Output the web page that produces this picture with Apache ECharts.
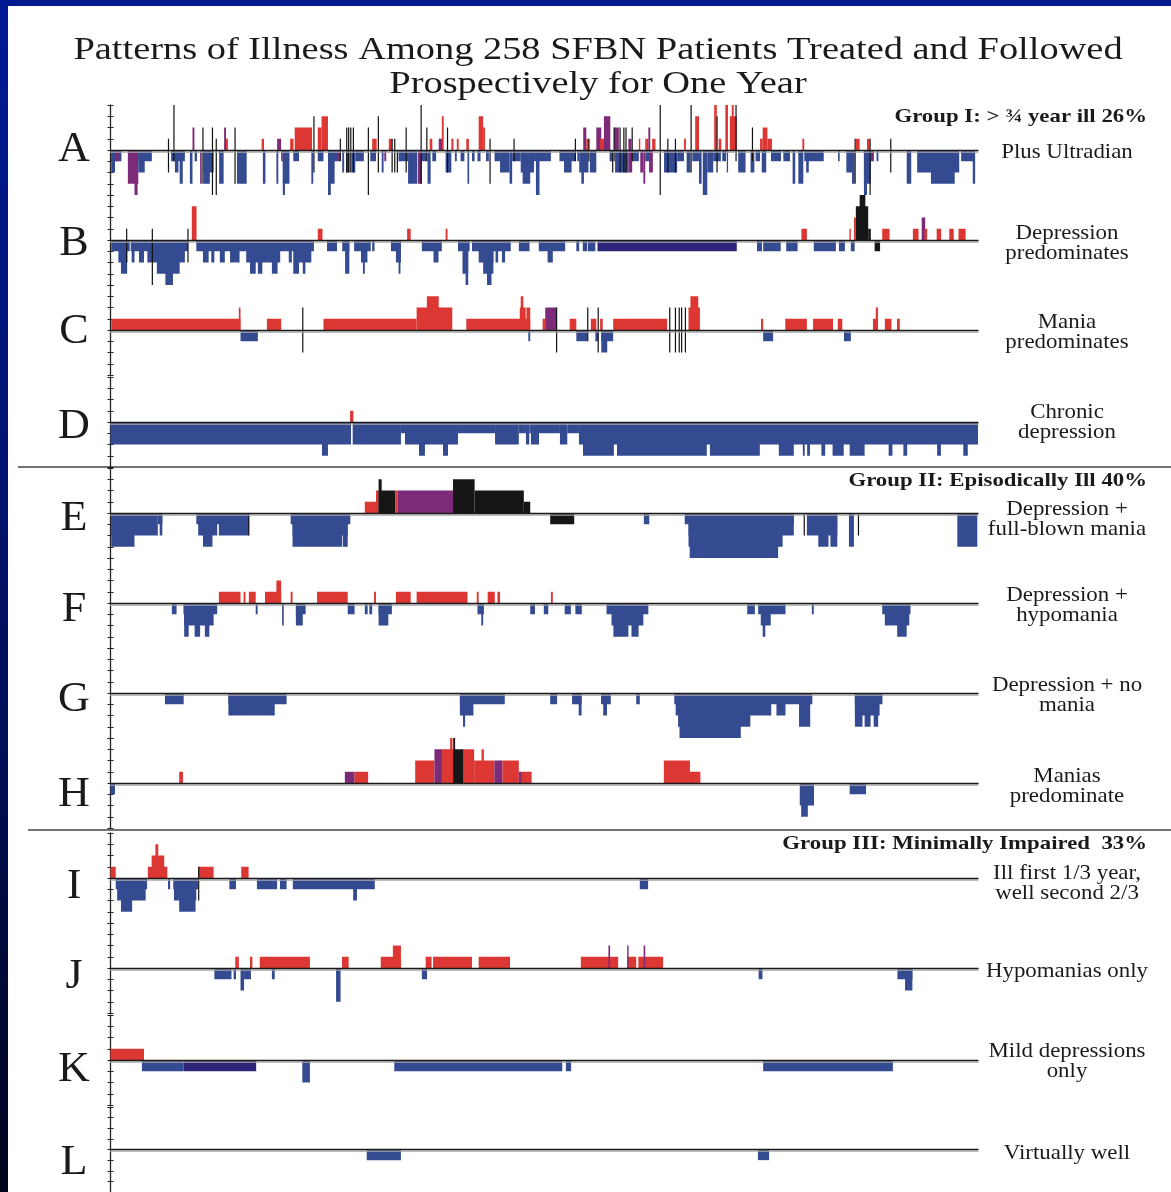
<!DOCTYPE html>
<html>
<head>
<meta charset="utf-8">
<script src="https://cdn.jsdelivr.net/npm/echarts@6/dist/echarts.min.js"></script>
<style>
html,body{margin:0;padding:0;background:#fff;}
#chart{width:1171px;height:1192px;}
</style>
</head>
<body>
<div id="chart"></div>
<script>
// ---------- DATA (days 0-365; level >0 mania, <0 depression) ----------
// bar: [startDay, endDay, level, colour code]   r=red p=purple k=black b=blue n=navy
// line: [day, topLevel, bottomLevel]  (thin ultradian strokes)
const titleLines = ['Patterns of Illness Among 258 SFBN Patients Treated and Followed', 'Prospectively for One Year'];
const rowLetters = ['A','B','C','D','E','F','G','H','I','J','K','L'];
const rowLabels = ['Plus Ultradian','Depression\npredominates','Mania\npredominates','Chronic\ndepression',
  'Depression +\nfull-blown mania','Depression +\nhypomania','Depression + no\nmania','Manias\npredominate',
  'Ill first 1/3 year,\nwell second 2/3','Hypomanias only','Mild depressions\nonly','Virtually well'];
const groupTitles = ['Group I: > \u00BE year ill 26%','Group II: Episodically Ill 40%','Group III: Minimally Impaired  33%'];

const A_bars = [
 [0.3,4.6,-1,'b'],[0.3,1.9,-2,'b'],[2.2,3.5,-1,'p'],
 [7.3,11.7,-3,'p'],[10.1,11.4,-4,'p'],
 [11.7,17.4,-1,'b'],[11.7,14.4,-2,'b'],
 [25.5,31.3,-1,'b'],[27.1,28.6,-2,'b'],[29.1,30.4,-3,'b'],
 [33.4,34.5,-3,'b'],[35.4,36.4,-1,'b'],[37.7,38.4,-3,'p'],
 [39.2,43.4,-2,'b'],[39.2,41.8,-3,'b'],[45.7,47.6,-3,'b'],
 [53.2,57.3,-3,'b'],[64.1,65.2,-3,'b'],
 [69.8,70.6,-3,'b'],[71.8,72.5,-1,'p'],[72.5,75.3,-3,'b'],[72.5,73.4,-4,'b'],
 [76.9,79.3,-1,'b'],[84.5,85.3,-3,'b'],
 [87.2,89.6,-1,'b'],[91.5,94.3,-3,'b'],[91.5,92.7,-4,'b'],[92.7,95.9,-1,'b'],[95.6,96.7,-1,'p'],
 [97.5,98.3,-2,'b'],[99.1,100.6,-2,'b'],[101.4,103,-2,'b'],[103,106.6,-1,'b'],
 [109.3,111.7,-1,'b'],[114.1,114.9,-2,'b'],[115.2,116,-1,'p'],
 [121.2,125.2,-1,'b'],[125.2,129.1,-3,'b'],[129.4,131,-3,'p'],[130.7,133.1,-1,'b'],[133.4,134.7,-3,'b'],
 [135.4,137,-1,'b'],[141,143.4,-2,'b'],[144.9,145.7,-1,'b'],[147.3,148.9,-1,'b'],[150.2,150.9,-3,'b'],
 [152.1,153.2,-1,'b'],[154.4,155.7,-1,'b'],[158,159.2,-1,'b'],
 [161.6,163.9,-1,'b'],[163.9,167.9,-2,'b'],[167.9,169,-3,'b'],[169,172.6,-1,'b'],[172.6,178.2,-2,'b'],
 [173.4,176.6,-3,'b'],[178.2,185.3,-1,'b'],[179,180.5,-4,'b'],[188.9,195.6,-1,'b'],[190.8,194,-2,'b'],
 [196.4,197.2,-1,'b'],[197.2,201.1,-2,'b'],[198.1,199.2,-3,'b'],
 [201.7,204.4,-2,'b'],[210,211.3,-1,'b'],[212.3,217.9,-2,'b'],[217.9,219.5,-2,'p'],[219.5,222.3,-1,'b'],
 [222.9,224.2,-2,'p'],[224.2,225,-3,'p'],[225,227.1,-1,'b'],[226.6,228.2,-2,'p'],
 [232.9,238.4,-2,'b'],[238.4,241.3,-1,'b'],[242.4,244,-2,'b'],[244.8,247.6,-1,'b'],[247.6,248.7,-3,'b'],
 [249.2,251.1,-4,'b'],[251.1,253.6,-2,'b'],[253.6,256.8,-1,'b'],[257.4,259,-1,'b'],[259.3,259.8,-2,'b'],
 [264.1,267.2,-2,'b'],[269.3,270.9,-2,'b'],[271.4,273.3,-1,'b'],[274,275.9,-2,'b'],[277.9,282.1,-1,'b'],
 [283.1,285.9,-1,'b'],[287,288.1,-3,'b'],[289.4,291.5,-3,'b'],[291.9,300.1,-1,'b'],[292.7,293.8,-2,'b'],
 [306.1,306.8,-1,'b'],[309.6,312,-2,'b'],[312,313.1,-3,'b'],[317,319.9,-3,'b'],[317,318.3,-4,'b'],
 [319.9,321.2,-1,'p'],[322.3,323.1,-1,'b'],
 [335,336.9,-3,'b'],[339.4,357.1,-2,'b'],[345.2,355.2,-3,'b'],[357.9,363.4,-1,'b'],[362.8,363.8,-3,'b'],
 [34.5,35.3,2,'p'],[47.8,48.6,2,'p'],[48.6,49.4,1,'r'],[63.6,64.6,1,'r'],[70.1,71.8,1,'p'],
 [75.6,77,1,'r'],[77.5,84.8,2,'r'],[87.2,88.8,2,'r'],[88.8,91.5,3,'r'],
 [110.1,112,1,'r'],[117.1,118.4,1,'r'],[134.3,135.4,1,'r'],[138.1,139.7,1,'p'],[139.4,140.2,3,'r'],
 [143.4,144.3,1,'r'],[145.7,146.5,1,'r'],[149.7,150.8,1,'r'],[154.9,156.8,3,'r'],[156.8,157.6,2,'r'],
 [198.9,200.2,2,'p'],[200.2,201.3,1,'r'],[204.4,206.5,2,'p'],[206,208,1,'r'],[207.6,210.3,3,'p'],
 [211.9,213.9,2,'p'],[217.9,219.2,1,'p'],[222.3,222.9,1,'r'],[225,226.3,1,'r'],[226.3,227.1,2,'p'],
 [227.9,229.3,1,'r'],[241.3,242.1,1,'r'],[246,247.6,3,'r'],[254,255.1,4,'r'],[255.9,257,1,'r'],
 [258.7,259.8,4,'r'],[260.6,263.5,3,'r'],[261.4,262.2,4,'r'],[273.3,274.4,1,'r'],[274.4,276.4,2,'r'],
 [276.4,278.3,1,'r'],[291.1,291.9,1,'r'],[313.6,315.2,1,'r'],[318.3,319.4,1,'r']
];
const A_lines = [[24.4,1,-2],[26.7,4,-1],[38.9,2,-3],[42.9,2,-4],[44.5,1,-4],[52.4,2,-3],[85.6,3,-2],
 [96.7,1,-1],[99.4,2,-2],[100.2,2,-2],[101.1,2,-2],[102.2,2,-2],[108.5,2,-4],[112.7,3,-2],[118.5,1,-2],
 [119.6,1,-2],[120.7,0,-2],[124.4,2,-2],[130.7,4,-3],[133.1,2,-1],[141.8,2,-2],[159.7,1,-3],[169.8,1,-1],
 [195.6,1,-1],[201.3,1,-1],[211.3,0,-2],[211.9,2,-1],[214.4,2,-2],[216,2,-2],[216.9,2,-2],[219.5,2,-1],
 [231.3,4,-4],[234.5,1,-2],[237.7,1,-2],[244.3,4,-2],[255.2,3,-2],[263.2,4,-1],[270.1,2,-1],[313.3,1,-3],
 [319.6,1,-4],[328.3,1,-2]];

const B_bars = [
 [0.3,8.1,-1,'b'],[3.3,7,-2,'b'],[4.4,7,-3,'b'],[8.5,32.6,-1,'b'],[8.9,10.1,-2,'b'],[12,14.1,-2,'b'],
 [15.5,31.3,-2,'b'],[19.5,29.1,-3,'b'],[23.1,26.3,-4,'b'],
 [36.1,85.6,-1,'b'],[38.9,41.3,-2,'b'],[42.4,43.7,-2,'b'],[46,48.1,-2,'b'],[50.3,54.3,-2,'b'],[57.1,71.4,-2,'b'],
 [58.7,61.1,-3,'b'],[62,63.9,-3,'b'],[67.9,70.3,-3,'b'],[75,76.3,-2,'b'],[76.9,79.3,-3,'b'],[79.3,84.5,-2,'b'],[80.9,82,-3,'b'],
 [91.1,95.3,-1,'b'],[97.5,100.5,-1,'b'],[98.7,100.5,-3,'b'],[102.5,109.5,-1,'b'],[105.4,108.1,-2,'b'],[106.2,107,-3,'b'],
 [110.1,111.1,-1,'b'],[118,122.2,-1,'b'],[120.1,122.2,-2,'b'],[121.2,122,-3,'b'],
 [131,139.4,-1,'b'],[135.9,138,-2,'b'],[146.2,151.1,-1,'b'],[148.1,150.5,-3,'b'],[149.4,150.5,-4,'b'],
 [152.1,168.4,-1,'b'],[154.9,161.1,-2,'b'],[156.8,161.1,-3,'b'],[158.4,160.3,-4,'b'],[162,163.1,-2,'b'],[164.7,166,-2,'b'],
 [171.8,176.3,-1,'b'],[180.2,191.3,-1,'b'],[183.9,186.1,-2,'b'],[196,197.2,-1,'b'],[198.7,200.5,-1,'b'],[200.8,204,-1,'b'],
 [204.9,263.5,-1,'n'],[272,274.1,-1,'b'],[274.6,282,-1,'b'],[284.3,289.1,-1,'b'],[295.9,305.2,-1,'b'],
 [306.5,309,-1,'b'],[311.5,313.1,-1,'b'],[321.5,323.8,-1,'k'],
 [34.2,36.2,3,'r'],[87.2,89.2,1,'r'],[124.8,126.3,1,'r'],[141,141.8,1,'r'],
 [290.7,293,1,'r'],[310.9,311.5,1,'r'],[312.8,313.6,2,'r'],[313.6,318.8,3,'k'],[315.2,317.6,4,'k'],[318.8,319.9,1,'k'],
 [324.7,327.8,1,'r'],[337.6,340,1,'r'],[341.3,342.8,2,'p'],[342.5,343.6,1,'r'],[347.6,349.5,1,'r'],
 [352.9,354.8,1,'r'],[356.8,359.8,1,'r']
];
const B_lines = [[6.8,1,-2],[17.6,1,-4],[32.6,1,-2]];

const C_bars = [
 [0.3,54.7,1,'r'],[54,54.7,2,'r'],[54.7,62,-1,'b'],[65.8,71.8,1,'r'],
 [89.6,128.8,1,'r'],[128.8,143.8,2,'r'],[133.1,138.1,3,'r'],
 [149.7,176.6,1,'r'],[172.2,174.7,2,'r'],[172.6,173.7,3,'r'],[175,176.6,2,'r'],[175.8,176.6,-1,'b'],
 [181.8,182.9,1,'r'],[182.9,187.7,2,'p'],[193.2,196,1,'r'],[196,200.6,-1,'b'],
 [202.1,204.4,1,'r'],[204,205.2,-1,'b'],[206,207.1,1,'r'],[206.5,211.5,-1,'b'],[206.5,209,-2,'b'],[211.5,234.2,1,'r'],
 [243.2,248,2,'r'],[244,247.3,3,'r'],[273.7,274.6,1,'r'],[274.6,278.8,-1,'b'],[283.9,293,1,'r'],[295.6,304,1,'r'],
 [306,307.9,1,'r'],[308.6,311.5,-1,'b'],[320.8,322.9,1,'r'],[322,322.9,2,'r'],[325.8,328.6,1,'r'],[330.9,332.1,1,'r']
];
const C_lines = [[80.9,2,-2],[187.7,2,-2],[200.8,2,-1],[205.2,2,-2],[235.3,2,-2],[237.7,2,-2],[239.3,2,-2],[240.3,2,-2],[241.9,2,-2]];

const D_bars = [
 [0,101.2,-2,'b'],[101.9,122.2,-2,'b'],[122.2,123.9,-1,'b'],[123.9,146.2,-2,'b'],[146.2,161.8,-1,'b'],
 [161.8,171.8,-2,'b'],[171.8,174.8,-1,'b'],[174.8,176.2,-2,'b'],[176.2,176.9,-1,'b'],[176.9,180.3,-2,'b'],
 [180.3,189.1,-1,'b'],[189.1,192.2,-2,'b'],[192.2,197.1,-1,'b'],[197.1,365,-2,'b'],
 [100.8,102.2,1,'r'],
 [89,91.5,-3,'b'],[129.8,132.3,-3,'b'],[139.9,142,-3,'b'],[198.8,211.8,-3,'b'],[213.1,250.9,-3,'b'],
 [252.2,273.2,-3,'b'],[281.2,287.5,-3,'b'],[291.3,292.1,-3,'b'],[293.1,294.3,-3,'b'],[299.1,300.7,-3,'b'],
 [303.8,308.5,-3,'b'],[311,317.3,-3,'b'],[327.4,329,-3,'b'],[333.6,335.2,-3,'b'],[347.8,349.4,-3,'b'],[358.8,360.7,-3,'b']
];

const E_bars = [
 [0.3,19.9,-2,'b'],[19.9,21.8,-1,'b'],[20.7,21.8,-2,'b'],[0.3,10.1,-3,'b'],
 [36.1,58.2,-1,'b'],[36.9,44.9,-2,'b'],[38.9,42.9,-3,'b'],[45.6,58.2,-2,'b'],
 [75.8,100.9,-1,'b'],[76.6,99.8,-2,'b'],[76.6,97.5,-3,'b'],[97.8,99.8,-3,'b'],
 [107,112.5,1,'r'],[111.7,112.8,2,'r'],[112.8,119.9,2,'k'],[112.8,114.1,3,'k'],[119.9,120.7,2,'r'],
 [120.7,144.1,2,'p'],[144.1,153.2,3,'k'],[153.2,173.9,2,'k'],[173.9,176.6,1,'k'],
 [185,195.1,-1,'k'],
 [224.4,226.7,-1,'b'],[241.6,287.5,-1,'b'],[243.2,287.5,-2,'b'],[243.2,282.8,-3,'b'],[243.7,280.9,-4,'b'],
 [293,305.8,-2,'b'],[297.8,302.1,-3,'b'],[302.9,305.8,-3,'b'],[310.7,312.8,-3,'b'],[356.3,364.7,-3,'b']
];
const E_lines = [[58.2,0,-2],[291.9,0,-2],[314.7,0,-2]];

const F_bars = [
 [25.8,27.8,-1,'b'],[30.7,44.9,-1,'b'],[31,43.4,-2,'b'],[31,32.9,-3,'b'],[35.4,37.7,-3,'b'],[39.7,41.6,-3,'b'],
 [45.6,54.7,1,'r'],[56,56.8,1,'r'],[58.2,61.1,1,'r'],[61.1,61.9,-1,'b'],[65,71.8,1,'r'],[69.8,71.8,2,'r'],
 [72.2,72.9,-2,'b'],[75.8,76.6,1,'r'],[78,82.1,-1,'b'],[78,80.9,-2,'b'],[86.9,99.8,1,'r'],[99.8,102.7,-1,'b'],
 [107,108.2,-1,'b'],[108.9,110.1,-1,'b'],[110.9,111.7,1,'r'],[112.8,118.4,-1,'b'],[112.8,116.9,-2,'b'],
 [120.1,126.3,1,'r'],[128.8,150.2,1,'r'],[154.1,154.9,1,'r'],[154.4,157.1,-1,'b'],[156,156.8,-2,'b'],
 [158.7,161.7,1,'r'],[162.8,163.9,1,'r'],[176.6,178.6,-1,'b'],[182.3,184.2,-1,'b'],[185.3,186.1,1,'r'],
 [191.1,193.7,-1,'b'],[195.6,198.3,-1,'b'],
 [208.7,226.3,-1,'b'],[210.8,224.2,-2,'b'],[211.6,217.9,-3,'b'],[219.2,222.2,-3,'b'],[267.9,271.1,-1,'b'],
 [272.5,284,-1,'b'],[273.6,277.8,-2,'b'],[274.4,275.5,-3,'b'],[295.1,295.9,-1,'b'],[324.7,336.6,-1,'b'],
 [325.8,336.1,-2,'b'],[331,335,-3,'b']
];

const G_bars = [
 [22.9,30.8,-1,'b'],[49.6,74.1,-1,'b'],[49.6,69.1,-2,'b'],[147,165.9,-1,'b'],[147,152.7,-2,'b'],[148.3,149.2,-3,'b'],
 [185,187.9,-1,'b'],[194.2,198.2,-1,'b'],[197,198.2,-2,'b'],[206.4,210.5,-1,'b'],[207.3,208.9,-2,'b'],
 [221.2,222.7,-1,'b'],[237.2,295.3,-1,'b'],[237.8,278,-2,'b'],[238.8,269.2,-3,'b'],[239.4,265.2,-4,'b'],
 [280.2,284,-2,'b'],[289.7,294.4,-3,'b'],[313.2,324.8,-1,'b'],[313.2,323.6,-2,'b'],[313.2,316.4,-3,'b'],
 [317.3,319.8,-3,'b'],[321.1,323,-3,'b']
];

const H_bars = [
 [0,1.9,-1,'b'],[28.9,30.5,1,'r'],[98.6,102.7,1,'p'],[102.7,108.4,1,'r'],[128.2,136.3,2,'r'],
 [136.3,139.5,3,'p'],[139.5,144.2,3,'r'],[142.9,143.9,4,'r'],[144.2,148.6,3,'k'],[144.2,145,4,'k'],
 [148.6,153,3,'r'],[153,161.5,2,'r'],[156.1,157.1,3,'r'],[161.5,164.9,2,'p'],[164.9,171.8,2,'r'],
 [171.8,173.1,1,'p'],[173.1,177.2,1,'r'],[232.8,243.8,2,'r'],[243.8,248.2,1,'r'],
 [290,296,-2,'b'],[290.6,293.4,-3,'b'],[311,317.9,-1,'b']
];

const I_bars = [
 [0,2.2,1,'r'],[2.2,15.4,-1,'b'],[2.8,14.8,-2,'b'],[4.4,9.1,-3,'b'],[15.7,23.9,1,'r'],[17.3,22.6,2,'r'],
 [18.9,20.1,3,'r'],[24.2,25.1,-1,'b'],[26.4,36.8,-1,'b'],[26.7,36.1,-2,'b'],[28.9,35.8,-3,'b'],
 [37.1,43.4,1,'r'],[50,52.8,-1,'b'],[55,58.1,1,'r'],[61.6,70.1,-1,'b'],[71.3,74.1,-1,'b'],
 [76.7,111.2,-1,'b'],[102.1,103.7,-2,'b'],[222.7,226.2,-1,'b']
];
const I_lines = [[37.1,1,-2]];

const J_bars = [
 [43.7,50.9,-1,'b'],[51.8,52.8,-1,'b'],[52.5,54,1,'r'],[54.7,56.2,-2,'b'],[56.2,59.1,-1,'b'],[58.7,59.7,1,'r'],
 [62.8,83.9,1,'r'],[67.9,69.1,-1,'b'],[94.9,96.8,-3,'b'],[97.4,100.2,1,'r'],[113.7,122.2,1,'r'],[118.8,122.2,2,'r'],
 [131,133.2,-1,'b'],[132.6,135.1,1,'r'],[135.7,152.1,1,'r'],[154.9,168.1,1,'r'],[197.9,213.6,1,'r'],
 [217.4,221.2,1,'r'],[222.1,232.5,1,'r'],[209.5,210.2,2,'p'],[217.4,218,2,'p'],[224.3,225,2,'p'],
 [272.7,274.3,-1,'b'],[331.1,337.4,-1,'b'],[334.3,337.4,-2,'b']
];

const K_bars = [[0,14.1,1,'r'],[13.2,30.8,-1,'b'],[30.8,61.3,-1,'n'],[80.7,83.9,-2,'b'],[119.4,190.1,-1,'b'],
 [191.6,193.8,-1,'b'],[274.6,329.2,-1,'b']];

const L_bars = [[107.8,122.2,-1,'b'],[272.4,277.1,-1,'b']];

// ---------- LAYOUT / STYLE ----------
const COLORS = {r:'#dd3733', b:'#354b91', p:'#7c2b79', k:'#161616', n:'#2d2579'};
const rows = [
  {bars:A_bars, lines:A_lines, base:150},
  {bars:B_bars, lines:B_lines, base:240},
  {bars:C_bars, lines:C_lines, base:330},
  {bars:D_bars, lines:[], base:422},
  {bars:E_bars, lines:E_lines, base:513},
  {bars:F_bars, lines:[], base:603},
  {bars:G_bars, lines:[], base:693},
  {bars:H_bars, lines:[], base:783},
  {bars:I_bars, lines:I_lines, base:878},
  {bars:J_bars, lines:[], base:968},
  {bars:K_bars, lines:[], base:1060},
  {bars:L_bars, lines:[], base:1152}
];
const letterY = [150,244,332,427,519,610,700,795,887,977,1070,1163];
const labelY = [152,243,332,422,519,605,695,786,883,971,1061,1153];
const LEVEL = 11.25;
const LEFT = 110.5, RIGHT_X = 978;
const SERIF = '"Liberation Serif","DejaVu Serif",serif';

const grids = [], xAxes = [], yAxes = [], series = [];
rows.forEach((row, i) => {
  grids.push({left: LEFT, width: RIGHT_X - LEFT, top: row.base - 4*LEVEL, height: 8*LEVEL, containLabel:false});
  xAxes.push({type:'value', gridIndex:i, min:0, max:365, show:true,
    axisLine:{show:true, onZero:true, lineStyle:{color:'#1a1a1a', width:1.4, shadowColor:'#a8a8a8', shadowOffsetY:1.6, shadowBlur:0}},
    axisTick:{show:false}, axisLabel:{show:false}, splitLine:{show:false}, z:5});
  yAxes.push({type:'value', gridIndex:i, min:-4, max:4, interval:1, position:'left',
    axisLine:{show:true, lineStyle:{color:'#222', width:1.3}},
    axisTick:{show:true, length:3, inside:false, lineStyle:{color:'#222', width:1}},
    axisLabel:{show:false}, splitLine:{show:false}});
  yAxes.push({type:'value', gridIndex:i, min:-4, max:4, interval:1, position:'left', offset:0,
    axisLine:{show:false}, axisTick:{show:true, length:3, inside:true, lineStyle:{color:'#222', width:1}},
    axisLabel:{show:false}, splitLine:{show:false}});
  series.push({
    type:'custom', xAxisIndex:i, yAxisIndex:2*i, clip:false, silent:true,
    encode:{x:[0,1], y:2},
    data: row.bars.map(b => ({value:[b[0], b[1], b[2]], itemStyle:{color: COLORS[b[3]]}})),
    renderItem: function(params, api){
      const s = api.value(0), e = api.value(1), l = api.value(2);
      const p0 = api.coord([s, 0]), p1 = api.coord([e, l]);
      const w = Math.max(p1[0]-p0[0], 1.3);
      return {type:'rect', shape:{x:p0[0], y:Math.min(p0[1],p1[1]), width:w, height:Math.abs(p1[1]-p0[1])},
        style:{fill: api.visual('color')}};
    }
  });
  if (row.lines.length) {
    series.push({
      type:'custom', xAxisIndex:i, yAxisIndex:2*i, clip:false, silent:true, z:3,
      encode:{x:0, y:[1,2]},
      data: row.lines,
      renderItem: function(params, api){
        const d = api.value(0), u = api.value(1), dn = api.value(2);
        const a = api.coord([d, u]), b = api.coord([d, dn]);
        return {type:'line', shape:{x1:a[0], y1:a[1], x2:b[0], y2:b[1]}, style:{stroke:'#111', lineWidth:1.2}};
      }
    });
  }
});

function txt(x, y, text, font, align, sx, extra) {
  return Object.assign({type:'text', x:x, y:y, scaleX:sx || 1, silent:true,
    style:Object.assign({text:text, font:font, fill:'#1a1a1a', textAlign:align, textVerticalAlign:'middle'}, extra || {})});
}

const graphic = [
  {type:'rect', shape:{x:0, y:0, width:1171, height:6}, style:{fill:'#00198f'}, silent:true},
  {type:'rect', shape:{x:0, y:0, width:8, height:1192}, silent:true,
    style:{fill:{type:'linear', x:0, y:0, x2:0, y2:1, colorStops:[{offset:0, color:'#001a95'},{offset:0.6, color:'#000f5a'},{offset:1, color:'#00041a'}]}}},
  {type:'line', shape:{x1:18, y1:467, x2:1171, y2:467}, style:{stroke:'#444', lineWidth:1.5}, silent:true},
  {type:'line', shape:{x1:28, y1:830, x2:1171, y2:830}, style:{stroke:'#444', lineWidth:1.5}, silent:true},
  txt(598, 51, titleLines[0], '32px '+SERIF, 'center', 1.2),
  txt(598, 85, titleLines[1], '32px '+SERIF, 'center', 1.2),
  txt(1147, 117, groupTitles[0], 'bold 19px '+SERIF, 'right', 1.2),
  txt(1147, 481, groupTitles[1], 'bold 19px '+SERIF, 'right', 1.2),
  txt(1147, 844, groupTitles[2], 'bold 19px '+SERIF, 'right', 1.2)
];
rowLetters.forEach((t, i) => {
  graphic.push(txt(74, letterY[i], t, '42px '+SERIF, 'center', 1.05));
});
rowLabels.forEach((t, i) => {
  graphic.push(txt(1067, labelY[i], t, '21px '+SERIF, 'center', 1.09, {lineHeight:20}));
});

const chart = echarts.init(document.getElementById('chart'), null, {renderer:'canvas'});
chart.setOption({
  animation:false,
  backgroundColor:'#ffffff',
  grid:grids, xAxis:xAxes, yAxis:yAxes, series:series, graphic:graphic
});
</script>
</body>
</html>
